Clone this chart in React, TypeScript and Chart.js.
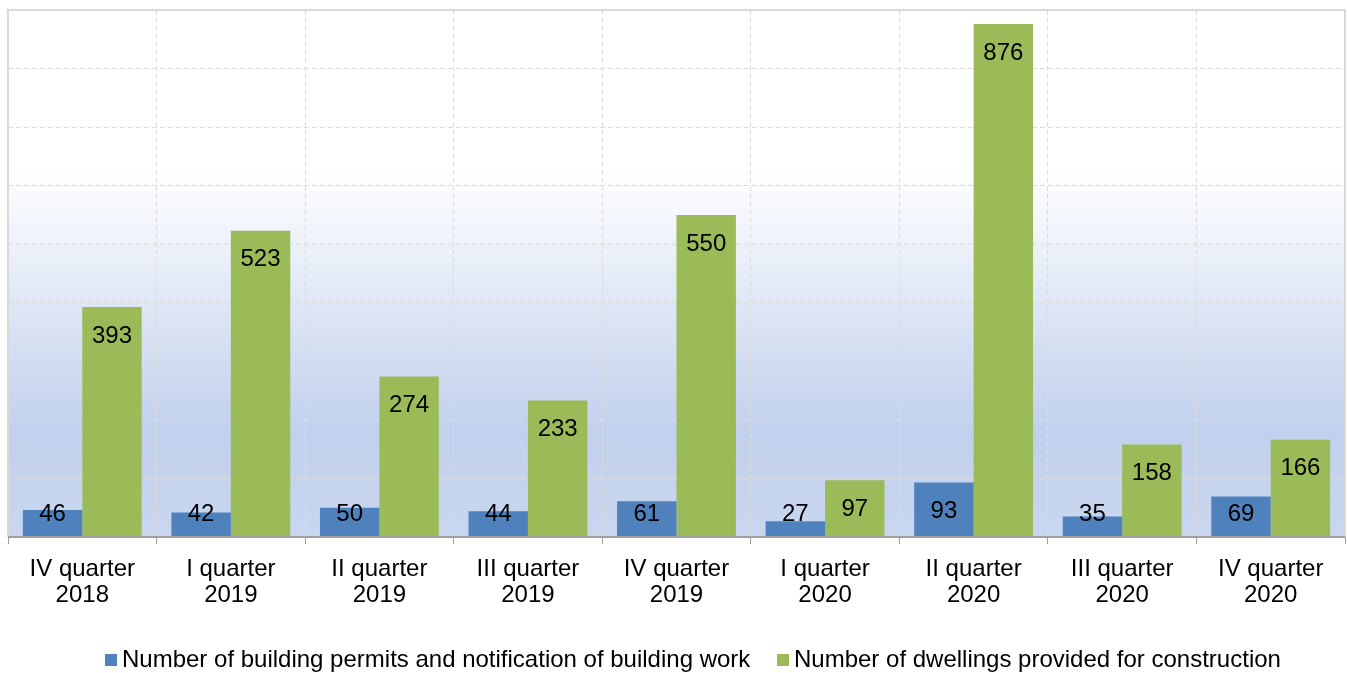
import React, { useEffect, useRef } from "react";
import { Chart, registerables } from "chart.js";

Chart.register(...registerables);

const categories: string[][] = [
  ["IV quarter", "2018"],
  ["I quarter", "2019"],
  ["II quarter", "2019"],
  ["III quarter", "2019"],
  ["IV quarter", "2019"],
  ["I quarter", "2020"],
  ["II quarter", "2020"],
  ["III quarter", "2020"],
  ["IV quarter", "2020"],
];
const permits: number[] = [46, 42, 50, 44, 61, 27, 93, 35, 69];
const dwellings: number[] = [393, 523, 274, 233, 550, 97, 876, 158, 166];
const seriesNames: string[] = [
  "Number of building permits and notification of building work",
  "Number of dwellings provided for construction",
];
const yMax = 900;
const yStep = 100;

const BLUE = "#4F81BD";
const GREEN = "#9BBB59";
const FONT = "'Liberation Sans', Arial, sans-serif";

const bgPlugin = {
  id: "bgPlugin",
  beforeDraw(chart: any) {
    const { ctx, chartArea, width, height } = chart;
    ctx.save();
    ctx.fillStyle = "#ffffff";
    ctx.fillRect(0, 0, width, height);
    const g = ctx.createLinearGradient(0, chartArea.top, 0, chartArea.bottom);
    g.addColorStop(0, "#ffffff");
    g.addColorStop(0.3, "#ffffff");
    g.addColorStop(0.8, "#c1d0ec");
    g.addColorStop(1, "#c9d6ef");
    ctx.fillStyle = g;
    ctx.fillRect(chartArea.left, chartArea.top, chartArea.right - chartArea.left, chartArea.bottom - chartArea.top);
    ctx.restore();
  },
  afterDatasetsDraw(chart: any) {
    const { ctx } = chart;
    ctx.save();
    ctx.font = `24px ${FONT}`;
    ctx.fillStyle = "#000";
    ctx.textAlign = "center";
    ctx.textBaseline = "middle";
    chart.data.datasets.forEach((ds: any, di: number) => {
      const meta = chart.getDatasetMeta(di);
      meta.data.forEach((bar: any, i: number) => {
        const y = Math.min(bar.y + 29, bar.base - 22);
        ctx.fillText(String(ds.data[i]), bar.x, y);
      });
    });
    ctx.restore();
  },
  afterDraw(chart: any) {
    const { ctx, chartArea } = chart;
    ctx.save();
    ctx.strokeStyle = "#d9d9d9";
    ctx.lineWidth = 2;
    ctx.setLineDash([]);
    ctx.beginPath();
    ctx.moveTo(chartArea.left, chartArea.bottom);
    ctx.lineTo(chartArea.left, chartArea.top);
    ctx.lineTo(chartArea.right, chartArea.top);
    ctx.lineTo(chartArea.right, chartArea.bottom);
    ctx.stroke();

    // x axis line (solid)
    ctx.strokeStyle = "#a0a0a0";
    ctx.beginPath();
    ctx.moveTo(chartArea.left, chartArea.bottom);
    ctx.lineTo(chartArea.right, chartArea.bottom);
    ctx.stroke();

    // legend
    ctx.font = `24px ${FONT}`;
    ctx.textBaseline = "middle";
    ctx.textAlign = "left";
    const colors = [BLUE, GREEN];
    const cy = 660;
    const boxX = [105, 777];
    chart.data.datasets.forEach((ds: any, di: number) => {
      ctx.fillStyle = colors[di];
      ctx.fillRect(boxX[di], cy - 6, 12, 12);
      ctx.fillStyle = "#000";
      ctx.fillText(ds.label, boxX[di] + 17, cy);
    });
    ctx.restore();
  },
};

export default function App() {
  const ref = useRef<HTMLCanvasElement>(null);
  useEffect(() => {
    if (!ref.current) return;
    const chart = new Chart(ref.current, {
      type: "bar",
      data: {
        labels: categories as any,
        datasets: [
          { label: seriesNames[0], data: permits, backgroundColor: BLUE, categoryPercentage: 0.8, barPercentage: 1.0 },
          { label: seriesNames[1], data: dwellings, backgroundColor: GREEN, categoryPercentage: 0.8, barPercentage: 1.0 },
        ],
      },
      options: {
        responsive: false,
        animation: false,
        layout: { padding: { left: 8, top: 10, right: 2, bottom: 0 } },
        plugins: { legend: { display: false }, tooltip: { enabled: false } },
        scales: {
          x: {
            grid: {
              display: true,
              offset: true,
              color: "#dcdcdc",
              tickColor: "#a0a0a0",
              tickBorderDash: [],
              tickLength: 7,
              lineWidth: 1,
            } as any,
            border: { display: false, dash: [5, 3] },
            ticks: {
              color: "#000",
              font: { family: FONT, size: 24, lineHeight: 1.1 },
              padding: 12,
              maxRotation: 0,
              autoSkip: false,
            },
            afterFit: (scale: any) => {
              scale.height = 136;
            },
          },
          y: {
            min: 0,
            max: yMax,
            ticks: { display: false, stepSize: yStep },
            grid: { color: "#dcdcdc", drawTicks: false } as any,
            border: { display: false, dash: [5, 3] },
          },
        },
      },
      plugins: [bgPlugin],
    });
    return () => chart.destroy();
  }, []);
  return (
    <div style={{ position: "fixed", left: 0, top: 0, width: 1347, height: 673, background: "#fff" }}>
      <canvas ref={ref} width={1347} height={673} style={{ display: "block" }} />
    </div>
  );
}
